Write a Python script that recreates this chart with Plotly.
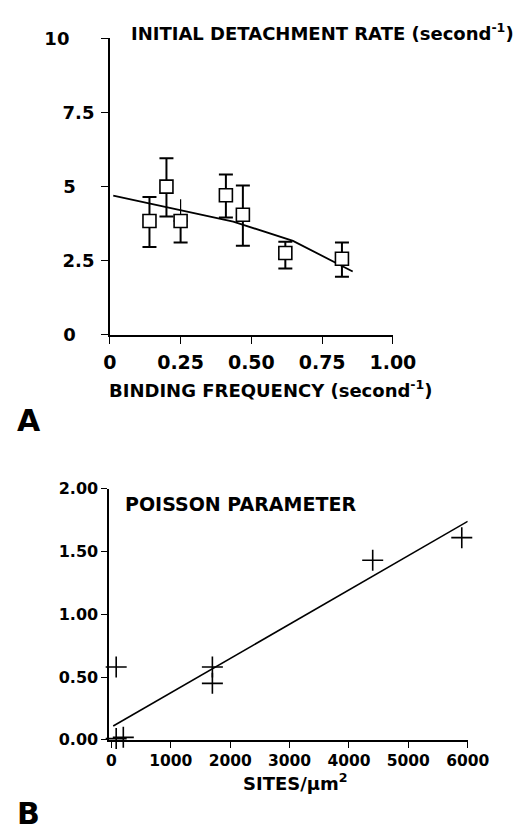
import plotly.graph_objects as go

# ---- Panel A: initial detachment rate vs binding frequency ----
binding_freq = [0.14, 0.20, 0.25, 0.41, 0.47, 0.62, 0.82]
detach_rate = [3.84, 5.00, 3.84, 4.71, 4.05, 2.76, 2.57]
rate_err_up = [0.81, 0.96, 0.73, 0.70, 0.99, 0.38, 0.55]
rate_err_down = [0.88, 1.01, 0.72, 0.75, 1.04, 0.52, 0.61]
top_cap = [True, True, False, True, True, True, True]

fit_a_x = [0.012, 0.436, 0.647, 0.858]
fit_a_y = [4.70, 3.82, 3.17, 2.14]

a_xticks = [0, 0.25, 0.5, 0.75, 1.0]
a_xlabels = ["0", "0.25", "0.50", "0.75", "1.00"]
a_yticks = [0, 2.5, 5, 7.5, 10]
a_ylabels = ["0\u00a0\u00a0\u00a0", "2.5", "5\u00a0\u00a0\u00a0", "7.5", "10\u00a0\u00a0\u00a0\u00a0"]

# ---- Panel B: Poisson parameter vs site density ----
site_density = [80, 80, 200, 1700, 1700, 4400, 5900]
poisson = [0.58, 0.01, 0.02, 0.58, 0.45, 1.43, 1.61]

fit_b_x = [30, 6000]
fit_b_y = [0.11, 1.74]

b_xticks = [0, 1000, 2000, 3000, 4000, 5000, 6000]
b_xlabels = ["0", "1000", "2000", "3000", "4000", "5000", "6000"]
b_yticks = [0, 0.5, 1.0, 1.5, 2.0]
b_ylabels = ["0.00", "0.50", "1.00", "1.50", "2.00"]

W, H = 531, 834
FONT = "DejaVu Sans"


def px_x(p):
    return p / W


def px_y(p):
    return 1 - p / H


fig = go.Figure()

# uncapped upper error bars (drawn first so the boxes sit on top)
unc_x = [x for x, c in zip(binding_freq, top_cap) if not c]
unc_y = [y for y, c in zip(detach_rate, top_cap) if not c]
unc_up = [u for u, c in zip(rate_err_up, top_cap) if not c]
fig.add_trace(go.Scatter(
    x=unc_x, y=unc_y, mode="markers",
    marker=dict(size=1, color="rgba(0,0,0,0)"),
    error_y=dict(type="data", symmetric=False, array=unc_up,
                 arrayminus=[0] * len(unc_x), width=0, thickness=1.2, color="black"),
    xaxis="x", yaxis="y", hoverinfo="skip",
))

fig.add_trace(go.Scatter(
    x=fit_a_x, y=fit_a_y, mode="lines",
    line=dict(color="black", width=1.8),
    xaxis="x", yaxis="y",
))

capped_up = [u if c else 0 for u, c in zip(rate_err_up, top_cap)]
fig.add_trace(go.Scatter(
    x=binding_freq, y=detach_rate, mode="markers",
    marker=dict(symbol="square", size=13, color="white",
                line=dict(color="black", width=1.6)),
    error_y=dict(type="data", symmetric=False, array=capped_up,
                 arrayminus=rate_err_down, width=7, thickness=2, color="black"),
    xaxis="x", yaxis="y",
))

fig.add_trace(go.Scatter(
    x=fit_b_x, y=fit_b_y, mode="lines",
    line=dict(color="black", width=1.6),
    xaxis="x2", yaxis="y2",
))

fig.add_trace(go.Scatter(
    x=site_density, y=poisson, mode="markers",
    marker=dict(symbol="cross-thin", size=15,
                line=dict(color="black", width=1.6)),
    cliponaxis=False,
    xaxis="x2", yaxis="y2",
))

axis_common = dict(
    showline=True, linecolor="black", linewidth=1.5,
    ticks="outside", tickcolor="black", tickwidth=1.2,
    showgrid=False, zeroline=False, tickmode="array",
)

fig.update_layout(
    width=W, height=H,
    margin=dict(l=0, r=0, t=0, b=0),
    paper_bgcolor="white", plot_bgcolor="white",
    showlegend=False,
    xaxis=dict(axis_common, domain=[px_x(109), px_x(409)], range=[0, 1],
               tickvals=a_xticks, ticktext=a_xlabels, ticklen=7, anchor="y",
               ticklabelstandoff=3,
               tickfont=dict(family=FONT, size=19, color="black", weight="bold")),
    yaxis=dict(axis_common, domain=[px_y(332.3), px_y(28)], range=[0, 10],
               tickvals=a_yticks, ticktext=a_ylabels, ticklen=7, anchor="x",
               ticklabelstandoff=3,
               tickfont=dict(family=FONT, size=18, color="black", weight="bold")),
    xaxis2=dict(axis_common, domain=[px_x(108.3), px_x(488.3)], range=[-38, 6000],
                tickvals=b_xticks, ticktext=b_xlabels, ticklen=6, anchor="y2",
                ticklabelstandoff=0,
                tickfont=dict(family=FONT, size=15.5, color="black", weight="bold")),
    yaxis2=dict(axis_common, domain=[px_y(747.7), px_y(490)], range=[0, 2],
                tickvals=b_yticks, ticktext=b_ylabels, ticklen=6, anchor="x2",
                tickfont=dict(family=FONT, size=16, color="black", weight="bold")),
)

def label(text, x, y, size, xanchor="left"):
    fig.add_annotation(
        text=text, x=px_x(x), y=px_y(y), xref="paper", yref="paper",
        xanchor=xanchor, yanchor="middle", showarrow=False,
        font=dict(family=FONT, size=size, color="black", weight="bold"),
    )

label("INITIAL DETACHMENT RATE (second<sup>-1</sup>)", 129, 22, 18)
label("BINDING FREQUENCY (second<sup>-1</sup>)", 280, 388, 18, "center")
label("A", 23, 420, 30, "center")
label("POISSON PARAMETER", 122.5, 505.7, 19)
label("SITES/µm<sup>2</sup>", 306, 791, 18, "center")
label("B", 23, 823, 30, "center")

fig.write_html("out.html")
